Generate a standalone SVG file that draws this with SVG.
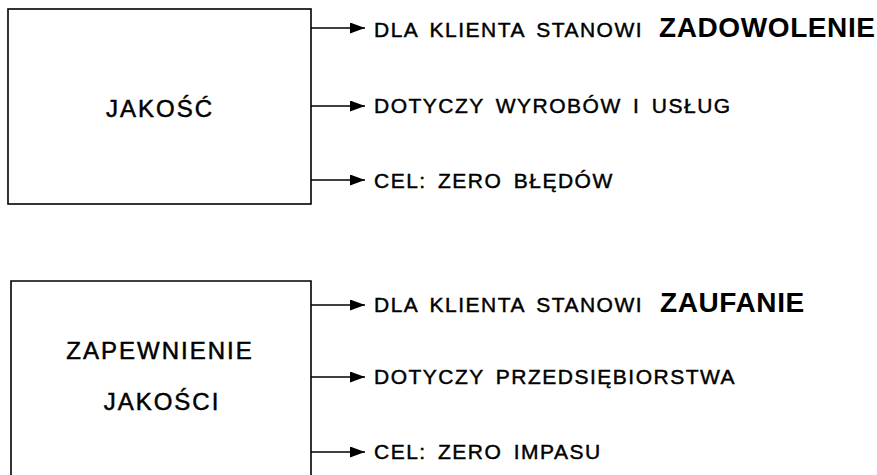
<svg xmlns="http://www.w3.org/2000/svg" width="877" height="475" viewBox="0 0 877 475">
<defs>
<marker id="ah" markerUnits="userSpaceOnUse" markerWidth="16" markerHeight="12" refX="15" refY="5.5" orient="auto">
<path d="M0,0 L15,5.5 L0,11 z" fill="#000"/>
</marker>
<style>
.box{fill:#fff;stroke:#000;stroke-width:1.6}
.c{stroke:#000;stroke-width:1.4;fill:none;marker-end:url(#ah)}
.lbl{font-family:"Liberation Sans",Arial,sans-serif;font-size:24px;letter-spacing:2px;text-anchor:middle;fill:#000;stroke:#000;stroke-width:0.5px}
.t{font-family:"Liberation Sans",Arial,sans-serif;font-size:21px;letter-spacing:1.5px;word-spacing:4px;fill:#000;stroke:#000;stroke-width:0.45px}
.b{font-family:"Liberation Sans",Arial,sans-serif;font-size:28px;font-weight:bold;letter-spacing:0.6px;fill:#000}
</style>
</defs>
<rect width="877" height="475" fill="#fff"/>
<g id="node-jakosc">
<rect class="box" x="8" y="9" width="303" height="195"/>
<text class="lbl" x="160" y="117">JAKOŚĆ</text>
</g>
<g id="node-zapewnienie">
<path class="box" d="M11,478 L11,281 L311,281 L311,478"/>
<text class="lbl" x="160" y="359">ZAPEWNIENIE</text>
<text class="lbl" x="162" y="410">JAKOŚCI</text>
</g>
<g id="connectors">
<line class="c" x1="311" y1="28" x2="365" y2="28"/>
<line class="c" x1="311" y1="106" x2="365" y2="106"/>
<line class="c" x1="311" y1="180" x2="365" y2="180"/>
<line class="c" x1="311" y1="305" x2="365" y2="305"/>
<line class="c" x1="311" y1="377" x2="365" y2="377"/>
<line class="c" x1="311" y1="452" x2="365" y2="452"/>
</g>
<g id="labels">
<text class="t" x="374" y="37">DLA KLIENTA STANOWI</text>
<text class="b" x="659" y="37">ZADOWOLENIE</text>
<text class="t" x="374" y="113">DOTYCZY WYROBÓW I USŁUG</text>
<text class="t" x="374" y="188">CEL: ZERO BŁĘDÓW</text>
<text class="t" x="374" y="312">DLA KLIENTA STANOWI</text>
<text class="b" x="660" y="312">ZAUFANIE</text>
<text class="t" x="374" y="384">DOTYCZY PRZEDSIĘBIORSTWA</text>
<text class="t" x="374" y="459">CEL: ZERO IMPASU</text>
</g>
</svg>
